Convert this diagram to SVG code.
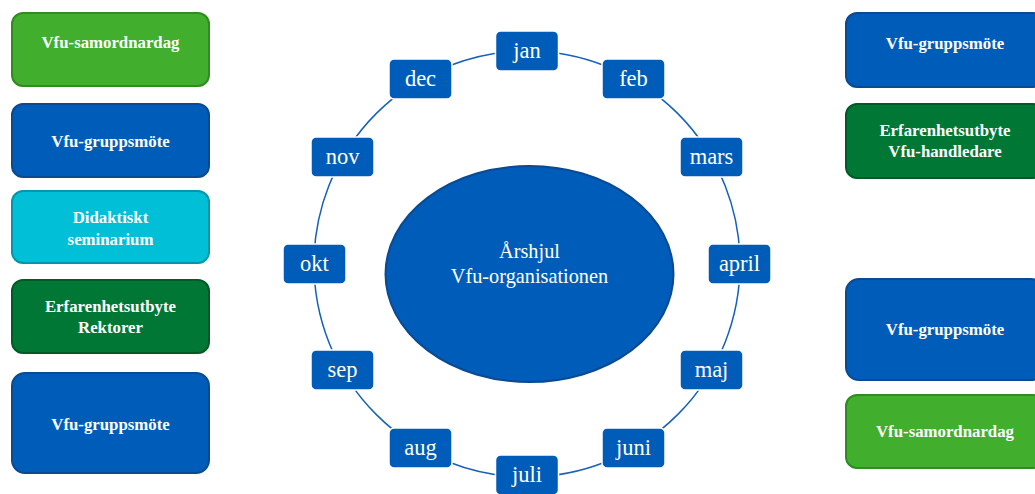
<svg xmlns="http://www.w3.org/2000/svg" width="1035" height="494" viewBox="0 0 1035 494">
<style>
.box{stroke-width:2}
.green{fill:#41ae2d;stroke:#318a22}
.blue{fill:#005cb9;stroke:#0b4a90}
.cyan{fill:#00bfd6;stroke:#0097aa}
.dgreen{fill:#007734;stroke:#005a27}
.bt{font-family:"Liberation Serif","DejaVu Serif",serif;font-weight:bold;font-size:16.8px;fill:#fff;text-anchor:middle}
.month{fill:#005cb9;stroke:#ffffff;stroke-width:1.5}
.mt{font-family:"Liberation Serif","DejaVu Serif",serif;font-size:22.5px;fill:#fff;text-anchor:middle}
.ct{font-family:"Liberation Serif","DejaVu Serif",serif;font-size:20.3px;fill:#fff;text-anchor:middle}
</style>
<rect width="1035" height="494" fill="#fff"/>
<g id="connectors">
<circle cx="527" cy="264" r="213" fill="none" stroke="#1560b8" stroke-width="1.5"/>
</g>
<g id="center">
<ellipse cx="529.5" cy="274" rx="144" ry="108" fill="#005cb9" stroke="#0b4a90" stroke-width="2"/>
<text class="ct" x="529.5" y="258">Årshjul</text>
<text class="ct" x="529.5" y="283">Vfu-organisationen</text>
</g>
<g id="m-jan"><rect class="month" x="495.5" y="31" width="63" height="40" rx="5"/><text class="mt" x="527" y="58">jan</text></g>
<g id="m-feb"><rect class="month" x="602" y="59" width="63" height="40" rx="5"/><text class="mt" x="633.5" y="86">feb</text></g>
<g id="m-mars"><rect class="month" x="680" y="137" width="63" height="40" rx="5"/><text class="mt" x="711.5" y="164">mars</text></g>
<g id="m-april"><rect class="month" x="708" y="244" width="63" height="40" rx="5"/><text class="mt" x="739.5" y="271">april</text></g>
<g id="m-maj"><rect class="month" x="680" y="350" width="63" height="40" rx="5"/><text class="mt" x="711.5" y="377">maj</text></g>
<g id="m-juni"><rect class="month" x="602" y="428" width="63" height="40" rx="5"/><text class="mt" x="633.5" y="455">juni</text></g>
<g id="m-juli"><rect class="month" x="495.5" y="455" width="63" height="40" rx="5"/><text class="mt" x="527" y="482">juli</text></g>
<g id="m-aug"><rect class="month" x="389" y="428" width="63" height="40" rx="5"/><text class="mt" x="420.5" y="455">aug</text></g>
<g id="m-sep"><rect class="month" x="311" y="350" width="63" height="40" rx="5"/><text class="mt" x="342.5" y="377">sep</text></g>
<g id="m-okt"><rect class="month" x="283" y="244" width="63" height="40" rx="5"/><text class="mt" x="314.5" y="271">okt</text></g>
<g id="m-nov"><rect class="month" x="311" y="137" width="63" height="40" rx="5"/><text class="mt" x="342.5" y="164">nov</text></g>
<g id="m-dec"><rect class="month" x="389" y="59" width="63" height="40" rx="5"/><text class="mt" x="420.5" y="86">dec</text></g>
<g id="l1"><rect class="box green" x="12" y="13" width="197" height="73" rx="11"/><text class="bt" x="110.5" y="48">Vfu-samordnardag</text></g>
<g id="l2"><rect class="box blue" x="12" y="104" width="197" height="73" rx="11"/><text class="bt" x="110.5" y="147">Vfu-gruppsmöte</text></g>
<g id="l3"><rect class="box cyan" x="12" y="191" width="197" height="72" rx="11"/><text class="bt" x="110.5" y="223">Didaktiskt</text><text class="bt" x="110.5" y="245">seminarium</text></g>
<g id="l4"><rect class="box dgreen" x="12" y="280" width="197" height="73" rx="11"/><text class="bt" x="110.5" y="312">Erfarenhetsutbyte</text><text class="bt" x="110.5" y="333">Rektorer</text></g>
<g id="l5"><rect class="box blue" x="12" y="373" width="197" height="100" rx="13"/><text class="bt" x="110.5" y="430">Vfu-gruppsmöte</text></g>
<g id="r1"><rect class="box blue" x="846" y="13" width="198" height="74" rx="11"/><text class="bt" x="945" y="49">Vfu-gruppsmöte</text></g>
<g id="r2"><rect class="box dgreen" x="846" y="104" width="198" height="74" rx="11"/><text class="bt" x="945" y="136">Erfarenhetsutbyte</text><text class="bt" x="945" y="157">Vfu-handledare</text></g>
<g id="r3"><rect class="box blue" x="846" y="279" width="198" height="101" rx="13"/><text class="bt" x="945" y="335">Vfu-gruppsmöte</text></g>
<g id="r4"><rect class="box green" x="846" y="395" width="198" height="73" rx="11"/><text class="bt" x="945" y="437">Vfu-samordnardag</text></g>
</svg>
